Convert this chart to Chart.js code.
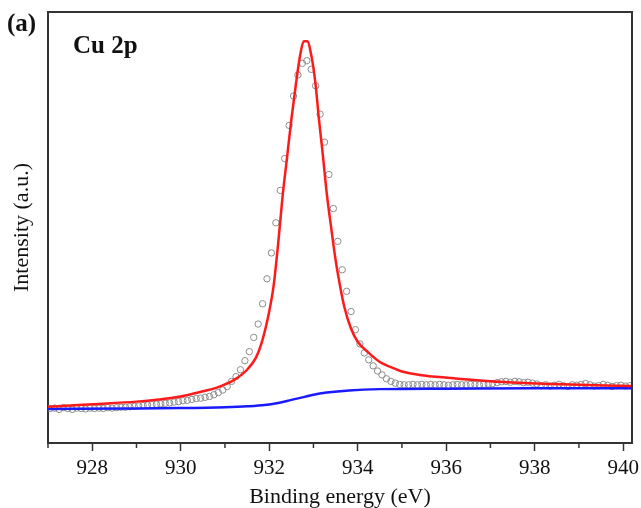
<!DOCTYPE html>
<html>
<head>
<meta charset="utf-8">
<script src="https://cdn.jsdelivr.net/npm/chart.js@4/dist/chart.umd.min.js"></script>
<style>
  html, body { margin: 0; padding: 0; background: #fff; }
  #wrap { width: 641px; height: 508px; position: relative; }
</style>
</head>
<body>
<div id="wrap"><canvas id="xps"></canvas></div>
<script>
// measured spectrum (open circles), binding energy in eV
const energy = [
  927.05, 927.15, 927.25, 927.35, 927.45, 927.55, 927.65, 927.75, 927.85, 927.95,
  928.05, 928.15, 928.25, 928.35, 928.45, 928.55, 928.65, 928.75, 928.85, 928.95,
  929.05, 929.15, 929.25, 929.35, 929.45, 929.55, 929.65, 929.75, 929.85, 929.95,
  930.05, 930.15, 930.25, 930.35, 930.45, 930.55, 930.65, 930.75, 930.85, 930.95,
  931.05, 931.15, 931.25, 931.35, 931.45, 931.55, 931.65, 931.75, 931.85, 931.95,
  932.05, 932.15, 932.25, 932.35, 932.45, 932.55, 932.65, 932.75, 932.85, 932.95,
  933.05, 933.15, 933.25, 933.35, 933.45, 933.55, 933.65, 933.75, 933.85, 933.95,
  934.05, 934.15, 934.25, 934.35, 934.45, 934.55, 934.65, 934.75, 934.85, 934.95,
  935.05, 935.15, 935.25, 935.35, 935.45, 935.55, 935.65, 935.75, 935.85, 935.95,
  936.05, 936.15, 936.25, 936.35, 936.45, 936.55, 936.65, 936.75, 936.85, 936.95,
  937.05, 937.15, 937.25, 937.35, 937.45, 937.55, 937.65, 937.75, 937.85, 937.95,
  938.05, 938.15, 938.25, 938.35, 938.45, 938.55, 938.65, 938.75, 938.85, 938.95,
  939.05, 939.15, 939.25, 939.35, 939.45, 939.55, 939.65, 939.75, 939.85, 939.95,
  940.05, 940.15
]
const counts = [
  8.0, 8.1, 7.8, 8.2, 8.0, 7.8, 8.1, 8.0, 7.9, 8.1,
  8.0, 8.1, 8.0, 8.2, 8.1, 8.2, 8.3, 8.3, 8.4, 8.5,
  8.6, 8.7, 8.8, 8.9, 9.0, 9.1, 9.2, 9.3, 9.5, 9.6,
  9.8, 9.9, 10.1, 10.3, 10.4, 10.6, 10.8, 11.2, 11.7, 12.3,
  13.1, 14.3, 15.4, 17.0, 19.1, 21.2, 24.5, 27.6, 32.3, 38.1,
  44.1, 51.1, 58.6, 66.0, 73.7, 80.5, 85.4, 88.1, 88.7, 86.7,
  82.9, 76.3, 69.8, 62.3, 54.4, 46.8, 40.2, 35.2, 30.5, 26.3,
  23.0, 20.9, 19.3, 17.9, 16.7, 15.8, 14.9, 14.3, 13.9, 13.6,
  13.5, 13.5, 13.6, 13.5, 13.6, 13.5, 13.6, 13.5, 13.6, 13.5,
  13.4, 13.5, 13.6, 13.5, 13.5, 13.6, 13.6, 13.5, 13.6, 13.7,
  13.8, 14.0, 14.2, 14.3, 14.1, 14.3, 14.2, 14.0, 14.1, 13.9,
  13.7, 13.3, 13.5, 13.2, 13.4, 13.6, 13.3, 13.1, 13.5, 13.4,
  13.6, 13.8, 13.5, 13.2, 13.3, 13.6, 13.4, 13.1, 13.3, 13.4,
  13.2, 13.3
]

// fitted envelope (red)
const fitEnergy = [
  927.0, 928.0, 929.0, 929.5, 930.0, 930.5, 930.8, 931.0, 931.2, 931.5,
  931.7, 931.85, 932.0, 932.1, 932.2, 932.3, 932.4, 932.5, 932.6, 932.7,
  932.78, 932.86, 932.95, 933.05, 933.12, 933.2, 933.3, 933.4, 933.5, 933.6,
  933.7, 933.85, 934.0, 934.25, 934.5, 934.75, 935.0, 935.4, 936.1, 937.2,
  938.4, 940.2
]
const fitValue = [
  8.4, 9.0, 9.6, 10.1, 10.8, 12.0, 12.8, 13.6, 14.6, 17.0,
  19.8, 24.0, 30.5, 36.5, 46.0, 57.0, 66.0, 75.0, 83.0, 90.0,
  93.2, 93.2, 90.0, 83.0, 75.5, 68.0, 58.0, 50.0, 42.5, 36.5,
  31.5, 26.5, 23.5, 20.9, 18.8, 17.6, 16.6, 15.8, 15.1, 14.2,
  13.7, 13.2
]

// background (blue)
const bgEnergy = [927.0, 929.0, 930.0, 931.0, 931.5, 931.9, 932.2, 932.5, 932.8, 933.0, 933.3, 933.8, 934.5, 936.0, 938.0, 940.2]
const bgValue = [7.9, 8.0, 8.1, 8.3, 8.5, 8.8, 9.3, 10.0, 10.7, 11.2, 11.7, 12.2, 12.5, 12.6, 12.7, 12.7]

const majorTicks = [928, 930, 932, 934, 936, 938, 940]
const minorTicks = [927, 929, 931, 933, 935, 937, 939]

const axisColor = '#333'
const serif = '"Liberation Serif", "Times New Roman", serif'

function pairs(xs, ys) {
  return xs.map((x, i) => ({x: x, y: ys[i]}))
}

// frame, minor ticks and panel labels
const decorations = {
  id: 'decorations',
  afterDraw(chart) {
    let ctx = chart.ctx
    let a = chart.chartArea
    let xs = chart.scales.x
    ctx.save()
    ctx.strokeStyle = axisColor
    ctx.lineWidth = 2
    ctx.beginPath()
    ctx.moveTo(a.left, a.top)
    ctx.lineTo(a.right, a.top)
    ctx.lineTo(a.right, a.bottom)
    ctx.stroke()
    ctx.lineWidth = 1.5
    for (let v of minorTicks) {
      let px = xs.getPixelForValue(v)
      ctx.beginPath()
      ctx.moveTo(px, a.bottom)
      ctx.lineTo(px, a.bottom + 5)
      ctx.stroke()
    }
    ctx.fillStyle = '#111'
    ctx.textBaseline = 'alphabetic'
    ctx.font = 'bold 25px ' + serif
    ctx.fillText('(a)', 7, 31)
    ctx.font = 'bold 25px ' + serif
    ctx.fillText('Cu 2p', 73, 53)
    ctx.restore()
  }
}

new Chart(document.getElementById('xps'), {
  type: 'line',
  data: {
    datasets: [
      {
        label: 'Fit',
        data: pairs(fitEnergy, fitValue),
        borderColor: '#ff1a1a',
        borderWidth: 2.5,
        pointRadius: 0,
        cubicInterpolationMode: 'monotone',
        fill: false,
        order: 1,
      },
      {
        label: 'Background',
        data: pairs(bgEnergy, bgValue),
        borderColor: '#1a1aff',
        borderWidth: 2.5,
        pointRadius: 0,
        cubicInterpolationMode: 'monotone',
        fill: false,
        order: 2,
      },
      {
        label: 'Raw',
        data: pairs(energy, counts),
        showLine: false,
        pointStyle: 'circle',
        pointRadius: 3.2,
        pointBorderWidth: 1,
        pointBorderColor: '#8c8c8c',
        pointBackgroundColor: 'rgba(255,255,255,0)',
        order: 3,
      },
    ],
  },
  options: {
    responsive: true,
    maintainAspectRatio: false,
    animation: false,
    events: [],
    layout: {
      padding: {left: 0, top: 12, right: 9, bottom: 0},
    },
    plugins: {
      legend: {display: false},
      tooltip: {enabled: false},
    },
    scales: {
      x: {
        type: 'linear',
        min: 927,
        max: 940.2,
        afterBuildTicks: scale => {
          scale.ticks = majorTicks.map(v => ({value: v}))
        },
        afterFit: scale => {
          scale.height = 65
          scale.paddingLeft = 0
          scale.paddingRight = 0
        },
        ticks: {
          autoSkip: false,
          maxRotation: 0,
          padding: 5,
          color: '#111',
          font: {family: serif, size: 21},
        },
        grid: {
          drawOnChartArea: false,
          tickLength: 8,
          tickColor: axisColor,
          tickWidth: 1.5,
        },
        border: {color: axisColor, width: 2},
        title: {
          display: true,
          text: 'Binding energy (eV)',
          color: '#111',
          font: {family: serif, size: 22, lineHeight: 1.0},
          padding: {top: 0, bottom: 0},
        },
      },
      y: {
        type: 'linear',
        min: 0,
        max: 100,
        afterFit: scale => {
          scale.width = 48
          scale.paddingTop = 0
          scale.paddingBottom = 0
        },
        ticks: {display: false},
        grid: {display: false},
        border: {color: axisColor, width: 2},
        title: {
          display: true,
          text: 'Intensity (a.u.)',
          color: '#111',
          font: {family: serif, size: 22},
          padding: {top: 9, bottom: 0},
        },
      },
    },
  },
  plugins: [decorations],
})
</script>
</body>
</html>
